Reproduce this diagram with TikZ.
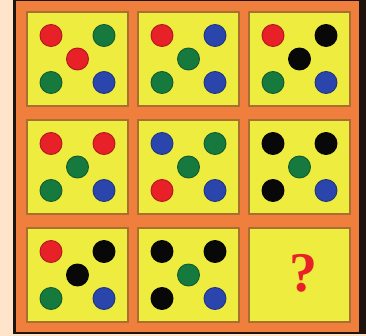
\documentclass[tikz,border=0pt]{standalone}
\usepackage{fontspec}
\newfontfamily\qfont{Liberation Serif}
\definecolor{peach}{RGB}{253,228,202}
\definecolor{frameorange}{RGB}{240,126,60}
\definecolor{cellyellow}{RGB}{238,236,62}
\definecolor{cellrim}{RGB}{168,112,48}
\definecolor{outerdark}{RGB}{30,20,15}
\definecolor{dred}{RGB}{232,32,40}
\definecolor{dgreen}{RGB}{22,122,62}
\definecolor{dblue}{RGB}{42,70,172}
\definecolor{dblack}{RGB}{8,8,8}
\tikzset{
  dotmark/.style={circle, minimum size=22pt, inner sep=0pt, line width=0.9pt, fill=#1, draw=#1!75!black},
  cellbox/.style={draw=cellrim, fill=cellyellow, line width=1.4pt, minimum width=101pt, minimum height=94pt, inner sep=0pt}
}
\newcommand\dicecell[7]{%
  \node[cellbox] (#1) at (#2,#3) {};
  \node[dotmark=#4] (#1tl) at ($(#1.center)+(-26.5,-23.5)$) {};
  \node[dotmark=#5] (#1tr) at ($(#1.center)+(26.5,-23.5)$) {};
  \node[dotmark=#6] (#1c) at (#1.center) {};
  \node[dotmark=#7] (#1bl) at ($(#1.center)+(-26.5,23.5)$) {};
}
\newcommand\dicebr[2]{\node[dotmark=#2] (#1br) at ($(#1.center)+(26.5,23.5)$) {};}
\usetikzlibrary{calc}
\begin{document}
\begin{tikzpicture}[x=1pt,y=-1pt]
\useasboundingbox (0,0) rectangle (366,336);
\fill[peach] (0,0) rectangle (366,336);
\fill[outerdark] (13,0) rectangle (366,334);
\fill[frameorange] (16,1) rectangle (359,332);
% row 1
\dicecell{a}{77.5}{59}{dred}{dgreen}{dred}{dgreen}\dicebr{a}{dblue}
\dicecell{b}{188.5}{59}{dred}{dblue}{dgreen}{dgreen}\dicebr{b}{dblue}
\dicecell{c}{299.5}{59}{dred}{dblack}{dblack}{dgreen}\dicebr{c}{dblue}
% row 2
\dicecell{d}{77.5}{167}{dred}{dred}{dgreen}{dgreen}\dicebr{d}{dblue}
\dicecell{e}{188.5}{167}{dblue}{dgreen}{dgreen}{dred}\dicebr{e}{dblue}
\dicecell{f}{299.5}{167}{dblack}{dblack}{dgreen}{dblack}\dicebr{f}{dblue}
% row 3
\dicecell{g}{77.5}{275}{dred}{dblack}{dblack}{dgreen}\dicebr{g}{dblue}
\dicecell{h}{188.5}{275}{dblack}{dblack}{dgreen}{dblack}\dicebr{h}{dblue}
\node[cellbox] (i) at (299.5,275) {};
\node[text=dred, font=\qfont\bfseries\fontsize{56}{56}\selectfont, inner sep=0pt] (q) at (303,273) {?};
\end{tikzpicture}
\end{document}
